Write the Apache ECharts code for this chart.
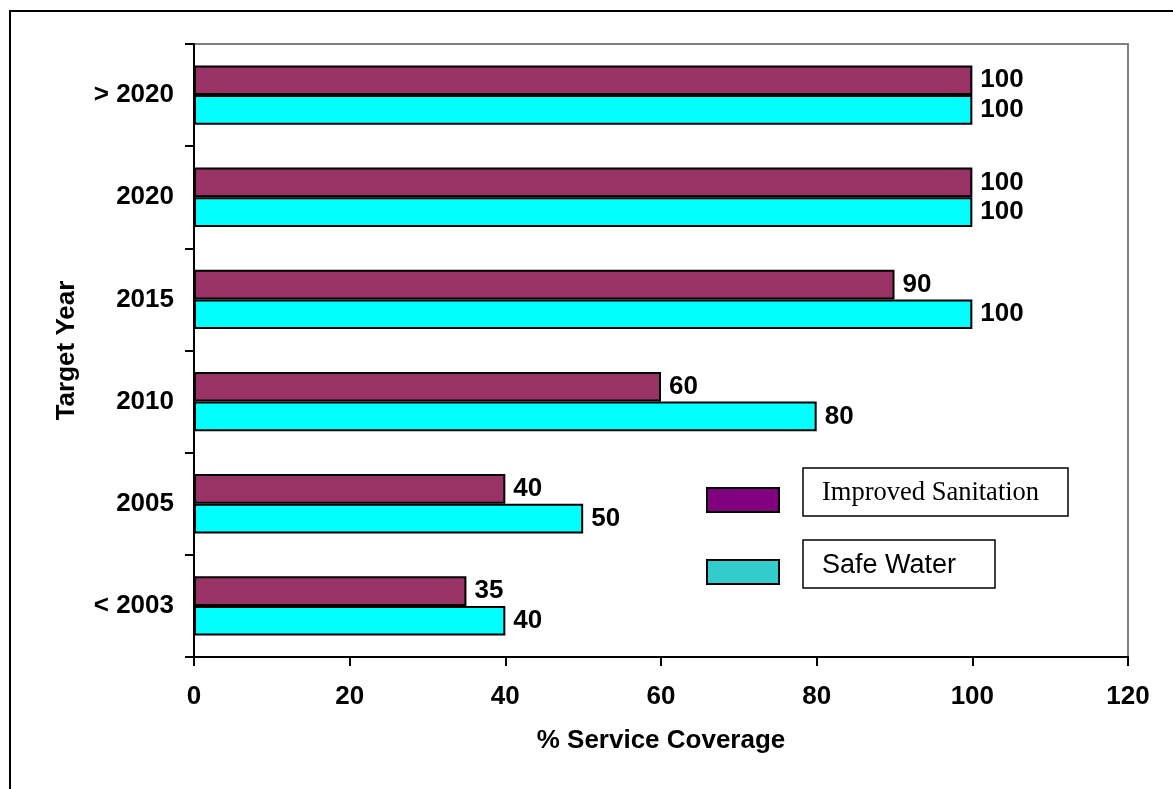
<!DOCTYPE html>
<html>
<head>
<meta charset="utf-8">
<script src="https://cdn.jsdelivr.net/npm/echarts@6/dist/echarts.min.js"></script>
<style>
  html, body { margin: 0; padding: 0; background: #ffffff; }
  #chart { width: 1173px; height: 789px; }
</style>
</head>
<body>
<div id="chart"></div>
<script>
// Target years, listed from the bottom of the axis to the top
const targetYears = ['< 2003', '2005', '2010', '2015', '2020', '> 2020'];
// Planned coverage (%) for each target year
const safeWater = [40, 50, 80, 100, 100, 100];
const improvedSanitation = [35, 40, 60, 90, 100, 100];
// Coverage axis ticks
const coverageMin = 0;
const coverageMax = 120;
const coverageStep = 20;

const chart = echarts.init(document.getElementById('chart'), null, { renderer: 'canvas' });

const boldFont = {
  fontFamily: 'Liberation Sans, Arial, sans-serif',
  fontWeight: 'bold',
  fontSize: 26,
  color: '#000000'
};
const nameFont = Object.assign({}, boldFont, { fontSize: 26 });

const barLabel = Object.assign({ show: true, position: 'right', distance: 8 }, boldFont);

chart.setOption({
  animation: false,
  backgroundColor: '#ffffff',
  grid: {
    left: 194, top: 44, right: 45, bottom: 132,
    show: true, borderColor: '#808080', borderWidth: 2, backgroundColor: 'transparent'
  },
  xAxis: {
    type: 'value',
    min: coverageMin, max: coverageMax, interval: coverageStep,
    name: '% Service Coverage',
    nameLocation: 'middle',
    nameGap: 71,
    nameTextStyle: nameFont,
    axisLine: { show: true, lineStyle: { color: '#000000', width: 2 } },
    axisTick: { show: true, length: 9, lineStyle: { color: '#000000', width: 2 } },
    axisLabel: Object.assign({ margin: 27 }, boldFont),
    splitLine: { show: false }
  },
  yAxis: {
    type: 'category',
    data: targetYears,
    name: 'Target Year',
    nameLocation: 'middle',
    nameGap: 114,
    nameRotate: 90,
    nameTextStyle: nameFont,
    axisLine: { show: true, lineStyle: { color: '#000000', width: 2 } },
    axisTick: { show: true, length: 9, lineStyle: { color: '#000000', width: 2 } },
    axisLabel: Object.assign({ margin: 20 }, boldFont),
    splitLine: { show: false }
  },
  series: [
    {
      name: 'Improved Sanitation',
      type: 'bar',
      data: improvedSanitation,
      barCategoryGap: '42%',
      barGap: '0%',
      itemStyle: { color: '#993366', borderColor: '#000000', borderWidth: 2 },
      label: barLabel
    },
    {
      name: 'Safe Water',
      type: 'bar',
      data: safeWater,
      barCategoryGap: '42%',
      barGap: '0%',
      itemStyle: { color: '#00ffff', borderColor: '#000000', borderWidth: 2 },
      label: barLabel
    }
  ],
  graphic: [
    // frame around the whole figure
    { type: 'rect', shape: { x: 10, y: 11, width: 1300, height: 900 },
      style: { fill: 'none', stroke: '#000000', lineWidth: 2 }, silent: true, z: 100 },
    // key: swatches and boxed captions
    { type: 'rect', shape: { x: 707, y: 488, width: 72, height: 24 },
      style: { fill: '#800080', stroke: '#000000', lineWidth: 2 }, z: 100 },
    { type: 'rect', shape: { x: 707, y: 560, width: 72, height: 24 },
      style: { fill: '#33cccc', stroke: '#000000', lineWidth: 2 }, z: 100 },
    { type: 'rect', shape: { x: 803, y: 468, width: 265, height: 48 },
      style: { fill: '#ffffff', stroke: '#000000', lineWidth: 1.5 }, z: 100 },
    { type: 'text', x: 822, y: 493, z: 101,
      style: { text: 'Improved Sanitation', fill: '#000000', fontFamily: 'Liberation Serif, Times New Roman, serif',
               fontSize: 26.5, verticalAlign: 'middle', align: 'left' } },
    { type: 'rect', shape: { x: 803, y: 540, width: 192, height: 48 },
      style: { fill: '#ffffff', stroke: '#000000', lineWidth: 1.5 }, z: 100 },
    { type: 'text', x: 822, y: 566, z: 101,
      style: { text: 'Safe Water', fill: '#000000', fontFamily: 'Liberation Sans, Arial, sans-serif',
               fontSize: 27, verticalAlign: 'middle', align: 'left' } }
  ]
});
</script>
</body>
</html>
